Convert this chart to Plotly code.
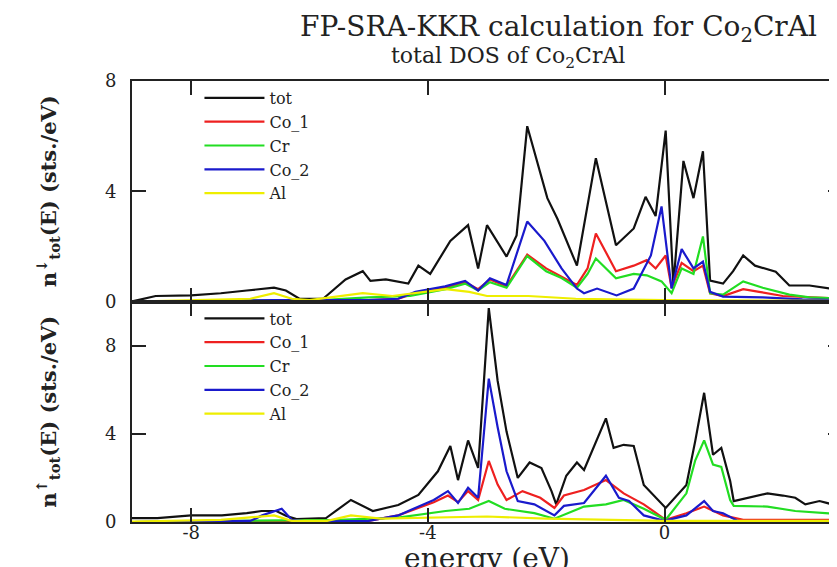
import plotly.graph_objects as go
from plotly.subplots import make_subplots

# ---------------- spin-up (top panel) ----------------
E_up_tot = [-9.0, -8.6, -8.0, -7.5, -7.06, -6.6, -6.4, -6.17, -5.77, -5.39, -5.1, -4.97, -4.71, -4.33,
            -4.16, -3.96, -3.62, -3.32, -3.15, -3.0, -2.67, -2.5, -2.32, -1.98, -1.81, -1.48, -1.16,
            -0.82, -0.52, -0.32, -0.15, 0.02, 0.15, 0.32, 0.49, 0.65, 0.77, 0.99, 1.16, 1.33, 1.53,
            1.88, 2.11, 2.45, 2.8, 2.98]
up_tot = [0.0, 0.2, 0.22, 0.3, 0.4, 0.5, 0.4, 0.1, 0.1, 0.8, 1.1, 0.75, 0.8, 0.65,
          1.3, 1.0, 2.2, 2.77, 1.2, 2.77, 1.63, 2.4, 6.36, 3.75, 3.0, 1.3, 5.2,
          2.04, 2.65, 3.8, 3.1, 6.2, 0.6, 5.1, 3.75, 5.45, 0.76, 0.65, 1.1, 1.67, 1.3,
          1.08, 0.58, 0.58, 0.47, 0.45]

E_up_co1 = [-9.0, -5.0, -4.5, -4.21, -3.71, -3.37, -3.15, -2.95, -2.67, -2.32, -2.0, -1.74, -1.48,
            -1.3, -1.16, -0.82, -0.52, -0.3, -0.15, 0.02, 0.12, 0.29, 0.49, 0.65, 0.77, 0.99, 1.33,
            1.6, 2.0, 2.98]
up_co1 = [0.0, 0.05, 0.1, 0.3, 0.5, 0.7, 0.45, 0.8, 0.55, 1.7, 1.2, 0.9, 0.6,
          1.2, 2.47, 1.1, 1.3, 1.5, 1.2, 1.67, 0.5, 1.4, 1.1, 1.3, 0.3, 0.2, 0.45,
          0.35, 0.2, 0.1]

E_up_cr = [-9.0, -5.8, -5.0, -4.3, -3.7, -3.37, -3.15, -2.95, -2.67, -2.32, -2.0, -1.74, -1.48,
           -1.3, -1.16, -0.82, -0.52, -0.3, -0.05, 0.12, 0.29, 0.49, 0.65, 0.77, 0.99, 1.33,
           1.66, 2.11, 2.45, 2.98]
up_cr = [0.0, 0.05, 0.15, 0.2, 0.45, 0.65, 0.4, 0.7, 0.5, 1.65, 1.1, 0.85, 0.5,
         1.0, 1.56, 0.84, 1.0, 0.95, 0.73, 0.3, 1.2, 1.0, 2.36, 0.3, 0.25, 0.73,
         0.5, 0.25, 0.15, 0.1]

E_up_co2 = [-9.0, -6.6, -5.0, -4.5, -4.21, -3.71, -3.37, -3.15, -2.95, -2.67, -2.32, -2.03, -1.74,
            -1.48, -1.36, -1.14, -0.81, -0.52, -0.23, -0.05, 0.12, 0.29, 0.49, 0.65, 0.77, 0.99,
            1.66, 2.33, 2.98]
up_co2 = [0.0, 0.05, 0.05, 0.1, 0.35, 0.55, 0.75, 0.4, 0.84, 0.6, 2.9, 2.2, 1.2,
          0.47, 0.3, 0.47, 0.22, 0.47, 1.67, 3.45, 0.47, 1.9, 1.2, 1.45, 0.35, 0.18,
          0.15, 0.08, 0.05]

E_up_al = [-9.0, -8.0, -7.0, -6.6, -6.3, -6.0, -5.5, -5.1, -4.6, -4.2, -3.7, -3.3, -3.0, -2.3,
           -1.5, 0.0, 2.98]
up_al = [0.0, 0.05, 0.1, 0.3, 0.1, 0.05, 0.2, 0.3, 0.2, 0.3, 0.45, 0.35, 0.2, 0.2,
         0.1, 0.05, 0.02]

# ---------------- spin-down (bottom panel) ----------------
E_dn_tot = [-9.0, -8.57, -8.0, -7.48, -7.06, -6.81, -6.56, -6.39, -6.22, -5.72, -5.3, -4.93, -4.5,
            -4.16, -3.83, -3.62, -3.49, -3.32, -3.15, -2.97, -2.82, -2.67, -2.48, -2.28, -2.08,
            -1.91, -1.83, -1.66, -1.48, -1.36, -0.99, -0.86, -0.69, -0.52, -0.35, 0.02, 0.37,
            0.52, 0.67, 0.82, 0.96, 1.11, 1.17, 1.44, 1.74, 2.0, 2.21, 2.38, 2.62, 2.98]
dn_tot = [0.18, 0.18, 0.3, 0.3, 0.4, 0.5, 0.5, 0.27, 0.13, 0.18, 1.0, 0.5, 0.77,
          1.23, 2.3, 3.45, 1.9, 3.7, 2.45, 9.7, 6.4, 4.1, 2.0, 2.7, 2.45,
          1.4, 0.8, 2.1, 2.7, 2.36, 4.7, 3.36, 3.5, 3.45, 1.68, 0.64, 1.68,
          3.68, 5.86, 3.05, 3.36, 1.86, 0.95, 1.1, 1.3, 1.2, 1.1, 0.8, 0.95, 0.7]

E_dn_co1 = [-9.0, -5.0, -4.5, -3.9, -3.66, -3.49, -3.32, -3.15, -2.97, -2.82, -2.67, -2.4, -2.1,
            -1.86, -1.7, -1.36, -0.99, -0.69, -0.35, 0.02, 0.37, 0.67, 0.99, 1.33, 2.98]
dn_co1 = [0.0, 0.05, 0.3, 0.9, 1.2, 0.9, 1.4, 1.0, 2.77, 1.7, 1.0, 1.4, 1.1,
          0.64, 1.2, 1.45, 1.9, 1.3, 0.8, 0.1, 0.4, 0.7, 0.3, 0.1, 0.1]

E_dn_cr = [-9.0, -7.0, -5.5, -4.5, -3.7, -3.3, -2.97, -2.7, -2.2, -1.86, -1.36, -0.99, -0.69,
           -0.35, 0.02, 0.37, 0.52, 0.67, 0.82, 0.96, 1.11, 1.17, 1.74, 2.21, 2.98]
dn_cr = [0.0, 0.05, 0.1, 0.2, 0.5, 0.6, 0.95, 0.6, 0.4, 0.15, 0.7, 0.8, 1.0,
         0.6, 0.1, 1.3, 2.8, 3.7, 2.6, 2.5, 1.0, 0.73, 0.7, 0.5, 0.35]

E_dn_co2 = [-9.0, -7.0, -6.8, -6.47, -6.3, -6.0, -5.0, -4.5, -3.9, -3.66, -3.49, -3.32, -3.15,
            -2.97, -2.82, -2.67, -2.48, -2.2, -1.86, -1.7, -1.36, -0.99, -0.77, -0.6, -0.35,
            0.0, 0.37, 0.67, 0.82, 0.99, 1.24, 2.98]
dn_co2 = [0.0, 0.05, 0.3, 0.6, 0.1, 0.02, 0.05, 0.3, 1.0, 1.4, 0.86, 1.55, 1.1,
          6.5, 4.3, 2.3, 0.95, 0.8, 0.3, 0.73, 0.86, 2.1, 1.1, 0.95, 0.3,
          0.05, 0.3, 0.95, 0.5, 0.4, 0.05, 0.02]

E_dn_al = [-9.0, -7.5, -6.6, -6.3, -5.7, -5.3, -4.8, -4.0, -3.0, -2.0, -1.0, 0.0, 2.98]
dn_al = [0.02, 0.1, 0.3, 0.05, 0.05, 0.3, 0.15, 0.2, 0.25, 0.15, 0.1, 0.05, 0.05]

names = ["tot", "Co_1", "Cr", "Co_2", "Al"]
colors = ["#111111", "#ee2020", "#22dd22", "#1a1acc", "#eeee00"]

up_series = [(E_up_tot, up_tot), (E_up_co1, up_co1), (E_up_cr, up_cr), (E_up_co2, up_co2), (E_up_al, up_al)]
dn_series = [(E_dn_tot, dn_tot), (E_dn_co1, dn_co1), (E_dn_cr, dn_cr), (E_dn_co2, dn_co2), (E_dn_al, dn_al)]

SERIF = "DejaVu Serif, Liberation Serif, serif"
INK = "#222222"

fig = make_subplots(rows=2, cols=1, shared_xaxes=True, vertical_spacing=0)

for i, (xs, ys) in enumerate(up_series):
    fig.add_trace(go.Scatter(x=xs, y=ys, mode="lines", name=names[i],
                             line=dict(color=colors[i], width=2.2), legend="legend"), row=1, col=1)
for i, (xs, ys) in enumerate(dn_series):
    fig.add_trace(go.Scatter(x=xs, y=ys, mode="lines", name=names[i],
                             line=dict(color=colors[i], width=2.2), legend="legend2"), row=2, col=1)

axis_common = dict(showline=True, linecolor=INK, linewidth=2, mirror="allticks",
                   ticks="inside", ticklen=14, tickwidth=2, tickcolor=INK,
                   showgrid=False, zeroline=False,
                   tickfont=dict(family=SERIF, size=18, color=INK))

fig.update_xaxes(range=[-9, 3], tickvals=[-8, -4, 0], ticktext=["-8", "-4", "0"], **axis_common)
fig.update_xaxes(showticklabels=False, row=1, col=1)
fig.update_xaxes(ticklabelstandoff=-7,
                 title=dict(text="energy (eV)", font=dict(family=SERIF, size=28, color=INK),
                            standoff=0), row=2, col=1)
fig.update_yaxes(range=[0, 8], tickvals=[0, 4, 8], ticklabelstandoff=10, row=1, col=1, **axis_common)
fig.update_yaxes(range=[0, 10], tickvals=[0, 4, 8], ticklabelstandoff=10, row=2, col=1, **axis_common)

legend_common = dict(xanchor="left", yanchor="top", bgcolor="rgba(0,0,0,0)",
                     font=dict(family=SERIF, size=16, color=INK),
                     itemwidth=60, tracegroupgap=0)
fig.update_layout(
    legend=dict(x=0.095, y=1.0, **legend_common),
    legend2=dict(x=0.095, y=0.5, **legend_common),
)

fig.add_annotation(text="FP-SRA-KKR calculation for Co<sub>2</sub>CrAl", xref="paper", yref="paper",
                   x=0.6, y=1.0, yshift=53, xanchor="center", yanchor="middle", showarrow=False,
                   font=dict(family=SERIF, size=28, color=INK))
fig.add_annotation(text="total DOS of Co<sub>2</sub>CrAl", xref="paper", yref="paper",
                   x=0.53, y=1.0, yshift=24, xanchor="center", yanchor="middle", showarrow=False,
                   font=dict(family=SERIF, size=22, color=INK))
fig.add_annotation(text="<b>n<sup>↓</sup><sub>tot</sub>(E) (sts./eV)</b>", xref="paper", yref="paper",
                   x=0, y=0.75, xshift=-84, textangle=-90, xanchor="center", yanchor="middle",
                   showarrow=False, font=dict(family=SERIF, size=21, color=INK))
fig.add_annotation(text="<b>n<sup>↑</sup><sub>tot</sub>(E) (sts./eV)</b>", xref="paper", yref="paper",
                   x=0, y=0.25, xshift=-84, textangle=-90, xanchor="center", yanchor="middle",
                   showarrow=False, font=dict(family=SERIF, size=21, color=INK))

fig.update_layout(width=837, height=567, margin=dict(l=124, r=1, t=73, b=53),
                  plot_bgcolor="white", paper_bgcolor="white", showlegend=True)

fig.write_html("out.html")
